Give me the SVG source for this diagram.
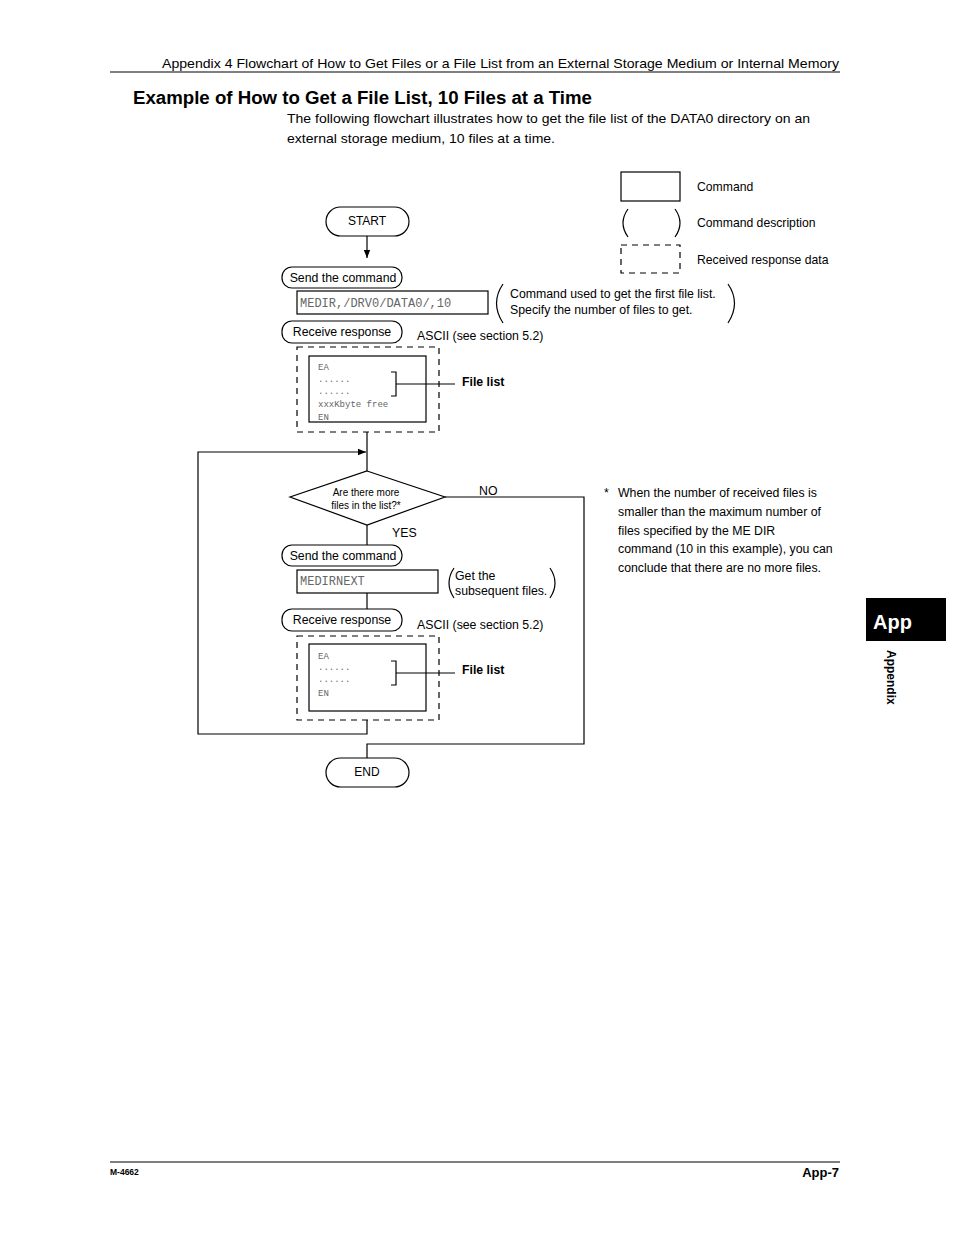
<svg xmlns="http://www.w3.org/2000/svg" width="954" height="1235" viewBox="0 0 954 1235">
<style>
.t{font-family:"Liberation Sans",Arial,sans-serif;fill:#000}
.m{font-family:"Liberation Mono","Courier New",monospace;fill:#666}
.s{fill:none;stroke:#000;stroke-width:1.2}
.d{fill:none;stroke:#000;stroke-width:1.2;stroke-dasharray:6,5}
.c{fill:none;stroke:#000;stroke-width:1.2}
</style>
<defs>
<marker id="arr" viewBox="0 0 10 10" refX="10" refY="5" markerWidth="8" markerHeight="8" orient="auto" markerUnits="userSpaceOnUse">
<path d="M0,1 L10,5 L0,9 Z" fill="#000"/>
</marker>
</defs>
<rect width="954" height="1235" fill="#fff"/>

<g id="header">
<text class="t" x="839" y="68" font-size="13.5" text-anchor="end" textLength="677" lengthAdjust="spacingAndGlyphs">Appendix 4  Flowchart of How to Get Files or a File List from an External Storage Medium or Internal Memory</text>
<line x1="110" y1="72" x2="840" y2="72" stroke="#000" stroke-width="1.2"/>
<text class="t" x="133" y="104" font-size="17.5" font-weight="bold" textLength="459" lengthAdjust="spacingAndGlyphs">Example of How to Get a File List, 10 Files at a Time</text>
<text class="t" x="287" y="123" font-size="13.5" textLength="523" lengthAdjust="spacingAndGlyphs">The following flowchart illustrates how to get the file list of the DATA0 directory on an</text>
<text class="t" x="287" y="143" font-size="13.5" textLength="268" lengthAdjust="spacingAndGlyphs">external storage medium, 10 files at a time.</text>
</g>

<g id="legend">
<rect class="s" x="621" y="172" width="59" height="29"/>
<text class="t" x="697" y="191" font-size="12.2">Command</text>
<path class="c" d="M628,209 Q618,223 628,237 M675,209 Q685,223 675,237"/>
<text class="t" x="697" y="227" font-size="12.2">Command description</text>
<rect class="d" x="621" y="245" width="59" height="28"/>
<text class="t" x="697" y="264" font-size="12.2">Received response data</text>
</g>

<g id="connectors">
<line class="s" x1="367" y1="236" x2="367" y2="258" marker-end="url(#arr)"/>
<line class="s" x1="367" y1="432" x2="367" y2="471"/>
<polyline class="s" points="367,720 367,734 198,734 198,452 366,452" marker-end="url(#arr)"/>
<polyline class="s" points="445,497 584,497 584,744 367,744 367,758"/>
<line class="s" x1="367" y1="525" x2="367" y2="545"/>
<line class="s" x1="367" y1="593" x2="367" y2="609"/>
<line class="s" x1="396" y1="384" x2="455" y2="384"/>
<line class="s" x1="396" y1="673" x2="455" y2="673"/>
</g>

<g id="start">
<rect class="s" x="326" y="207" width="83" height="29" rx="14.5"/>
<text class="t" x="367" y="225" font-size="12" text-anchor="middle">START</text>
</g>

<g id="send1">
<rect class="s" x="282" y="267" width="120" height="21" rx="10"/>
<text class="t" x="343" y="282" font-size="12.3" text-anchor="middle">Send the command</text>
</g>

<g id="cmd1">
<rect class="s" x="297" y="291" width="191" height="23"/>
<text class="m" x="300" y="307" font-size="12">MEDIR,/DRV0/DATA0/,10</text>
</g>

<g id="desc1">
<path class="c" d="M503,284 Q490,303 503,323 M728,284 Q741,303 728,323"/>
<text class="t" x="510" y="298" font-size="12.3">Command used to get the first file list.</text>
<text class="t" x="510" y="314" font-size="12.3">Specify the number of files to get.</text>
</g>

<g id="recv1">
<rect class="s" x="282" y="321" width="120" height="22" rx="10"/>
<text class="t" x="342" y="336" font-size="12.3" text-anchor="middle">Receive response</text>
<text class="t" x="417" y="340" font-size="12.3">ASCII (see section 5.2)</text>
</g>

<g id="resp1">
<rect class="d" x="297" y="347" width="142" height="85"/>
<rect class="s" x="309" y="356" width="117" height="66"/>
<text class="m" x="318" y="370" font-size="9">EA</text>
<text class="m" x="318" y="382" font-size="9">......</text>
<text class="m" x="318" y="394" font-size="9">......</text>
<text class="m" x="318" y="407" font-size="9">xxxKbyte free</text>
<text class="m" x="318" y="420" font-size="9">EN</text>
<path class="s" d="M391,372 L396,372 L396,396 L391,396"/>
<text class="t" x="462" y="386" font-size="12.3" font-weight="bold">File list</text>
</g>

<g id="decision">
<polygon class="s" points="367,471 445,497 367,525 290,497"/>
<text class="t" x="366" y="496" font-size="10" text-anchor="middle">Are there more</text>
<text class="t" x="366" y="509" font-size="10" text-anchor="middle">files in the list?*</text>
<text class="t" x="479" y="495" font-size="12.3">NO</text>
<text class="t" x="392" y="537" font-size="12.3">YES</text>
</g>

<g id="send2">
<rect class="s" x="282" y="545" width="120" height="21" rx="10"/>
<text class="t" x="343" y="560" font-size="12.3" text-anchor="middle">Send the command</text>
</g>

<g id="cmd2">
<rect class="s" x="297" y="570" width="141" height="23"/>
<text class="m" x="300" y="585" font-size="12">MEDIRNEXT</text>
</g>

<g id="desc2">
<path class="c" d="M454,568 Q444,583 454,598 M550,568 Q560,583 550,598"/>
<text class="t" x="455" y="580" font-size="12.3">Get the</text>
<text class="t" x="455" y="595" font-size="12.3">subsequent files.</text>
</g>

<g id="recv2">
<rect class="s" x="282" y="609" width="120" height="22" rx="10"/>
<text class="t" x="342" y="624" font-size="12.3" text-anchor="middle">Receive response</text>
<text class="t" x="417" y="629" font-size="12.3">ASCII (see section 5.2)</text>
</g>

<g id="resp2">
<rect class="d" x="297" y="636" width="142" height="84"/>
<rect class="s" x="309" y="644" width="117" height="67"/>
<text class="m" x="318" y="659" font-size="9">EA</text>
<text class="m" x="318" y="670" font-size="9">......</text>
<text class="m" x="318" y="682" font-size="9">......</text>
<text class="m" x="318" y="696" font-size="9">EN</text>
<path class="s" d="M391,661 L396,661 L396,685 L391,685"/>
<text class="t" x="462" y="674" font-size="12.3" font-weight="bold">File list</text>
</g>

<g id="end">
<rect class="s" x="326" y="758" width="83" height="29" rx="14.5"/>
<text class="t" x="367" y="776" font-size="12" text-anchor="middle">END</text>
</g>

<g id="footnote">
<text class="t" x="604" y="497" font-size="12.3">*</text>
<text class="t" x="618" y="497" font-size="12.3">When the number of received files is</text>
<text class="t" x="618" y="516" font-size="12.3">smaller than the maximum number of</text>
<text class="t" x="618" y="535" font-size="12.3">files specified by the ME DIR</text>
<text class="t" x="618" y="553" font-size="12.3">command (10 in this example), you can</text>
<text class="t" x="618" y="572" font-size="12.3">conclude that there are no more files.</text>
</g>

<g id="tab">
<rect x="866" y="598" width="80" height="43" fill="#000"/>
<text x="873" y="629" font-size="20" font-weight="bold" fill="#fff" font-family="Liberation Sans,Arial,sans-serif">App</text>
<text class="t" x="0" y="0" font-size="12" font-weight="bold" transform="translate(887,650) rotate(90)">Appendix</text>
</g>

<g id="footer">
<line x1="110" y1="1162" x2="840" y2="1162" stroke="#000" stroke-width="1.2"/>
<text class="t" x="110" y="1175" font-size="8.5" font-weight="bold">M-4662</text>
<text class="t" x="839" y="1177" font-size="13" font-weight="bold" text-anchor="end">App-7</text>
</g>
</svg>
